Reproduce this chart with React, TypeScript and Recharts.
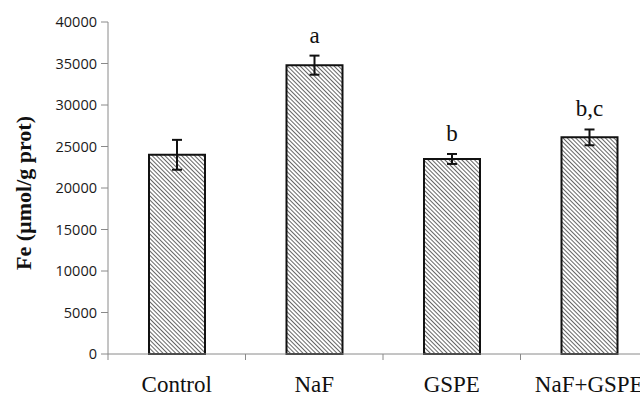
import React from 'react';
import { BarChart, Bar, XAxis, YAxis, ErrorBar, LabelList } from 'recharts';

const categories = ['Control', 'NaF', 'GSPE', 'NaF+GSPE'];
const means = [24000, 34800, 23500, 26100];
const errors = [1800, 1150, 600, 950];
const letters = ['', 'a', 'b', 'b,c'];
const yTicks = [0, 5000, 10000, 15000, 20000, 25000, 30000, 35000, 40000];
const yTitle = 'Fe (µmol/g prot)';

const data = categories.map((c, i) => ({ name: c, value: means[i], err: errors[i], letter: letters[i] }));

const AXIS = '#8a8a8a';
const SERIF = '"Liberation Serif", "Times New Roman", serif';

const XTick = (props: any) => {
  const { x, y, payload } = props;
  const off = payload && payload.offset ? payload.offset : 0;
  return (
    <g>
      <line x1={x - off} y1={y - 6} x2={x - off} y2={y} stroke={AXIS} strokeWidth={1} />
      <text x={x} y={y + 32} textAnchor="middle" fontFamily={SERIF} fontSize={23} fill="#111">
        {payload.value}
      </text>
    </g>
  );
};

const LetterLabel = (props: any) => {
  const { x, y, width, height, value, index } = props;
  if (!value) return null;
  const v = means[index];
  const pxPer = height / v;
  const top = y - errors[index] * pxPer;
  return (
    <text x={x + width / 2} y={top - 13} textAnchor="middle" fontFamily={SERIF} fontSize={23} fill="#111">
      {value}
    </text>
  );
};

const YTitle = (props: any) => {
  const { viewBox } = props;
  const cx = viewBox.x + 23;
  const cy = viewBox.y + viewBox.height / 2 + 5;
  return (
    <text
      x={cx}
      y={cy}
      transform={`rotate(-90, ${cx}, ${cy})`}
      textAnchor="middle"
      dominantBaseline="central"
      fontFamily={SERIF}
      fontWeight="bold"
      fontSize={22}
      fill="#111"
    >
      {yTitle}
    </text>
  );
};

export default function App() {
  return (
    <div style={{ width: 640, height: 398, overflow: 'hidden', background: '#fff' }}>
      <style>{'html, body { margin: 0; padding: 0; background: #fff; overflow: hidden; }'}</style>
      <BarChart width={658} height={398} data={data} margin={{ top: 22, right: 0, bottom: 0, left: 0 }} barCategoryGap="0%">
        <defs>
          <pattern id="hatch" patternUnits="userSpaceOnUse" width="3" height="3" patternTransform="rotate(-45)">
            <rect x="0" y="0" width="3" height="3" fill="#fff" />
            <line x1="0" y1="0" x2="0" y2="3" stroke="#333" strokeWidth="1.5" />
          </pattern>
        </defs>
        <XAxis
          dataKey="name"
          height={44}
          stroke={AXIS}
          tickLine={false}
          tickSize={6}
          tickMargin={0}
          tick={<XTick />}
          interval={0}
        />
        <YAxis
          width={108}
          domain={[0, 40000]}
          ticks={yTicks}
          interval={0}
          stroke={AXIS}
          tickSize={7}
          tickMargin={4}
          tick={{ fill: '#1a1a1a', fontSize: 14.5, fontFamily: '"Open Sans", "Noto Sans", sans-serif' }}
          label={<YTitle />}
        />
        <Bar dataKey="value" barSize={56} fill="url(#hatch)" stroke="#111" strokeWidth={2} isAnimationActive={false}>
          <ErrorBar dataKey="err" width={5} stroke="#111" strokeWidth={2} direction="y" />
          <LabelList dataKey="letter" content={<LetterLabel />} />
        </Bar>
      </BarChart>
    </div>
  );
}
